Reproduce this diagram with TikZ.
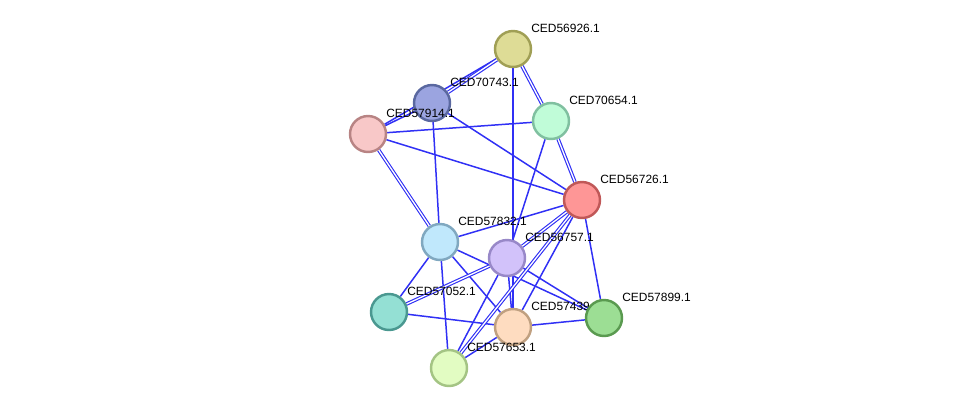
\documentclass[tikz,border=0pt]{standalone}
\usepackage{fontspec}
\setmainfont{Liberation Sans}
\usetikzlibrary{backgrounds}
\definecolor{edgec}{HTML}{3030F5}
\definecolor{f56926}{HTML}{DEDC96}\definecolor{d56926}{HTML}{A09F55}
\definecolor{f70743}{HTML}{9BA4E0}\definecolor{d70743}{HTML}{5A68A0}
\definecolor{f57914}{HTML}{F8C8C8}\definecolor{d57914}{HTML}{B88484}
\definecolor{f70654}{HTML}{C0FCD8}\definecolor{d70654}{HTML}{80C0A0}
\definecolor{f56726}{HTML}{FE9696}\definecolor{d56726}{HTML}{C05858}
\definecolor{f57832}{HTML}{C0E8FC}\definecolor{d57832}{HTML}{80A8C0}
\definecolor{f56757}{HTML}{D2C2FA}\definecolor{d56757}{HTML}{9888C8}
\definecolor{f57052}{HTML}{94E0D4}\definecolor{d57052}{HTML}{4A9890}
\definecolor{f57439}{HTML}{FEDCC0}\definecolor{d57439}{HTML}{C0A080}
\definecolor{f57899}{HTML}{9CDE94}\definecolor{d57899}{HTML}{5A9A50}
\definecolor{f57653}{HTML}{E2FCC2}\definecolor{d57653}{HTML}{A4C484}

\begin{document}
\begin{tikzpicture}[
    x=0.02cm, y=-0.02cm,
    prot/.style={circle, minimum size=0.72cm, inner sep=0pt, line width=1.4pt},
    lab/.style={font=\fontsize{6.8}{8}\selectfont, text=black, inner sep=0pt, anchor=west},
    edge/.style={draw=edgec, line width=0.85pt},
    dbl/.style={draw=edgec, line width=0.65pt, double=white, double distance=0.75pt},
]
\useasboundingbox (0,0) rectangle (976,414);

% proteins, each with its name
\foreach \id/\x/\y in {56926/513/49, 70654/551/121, 70743/432/103, 57914/368/134,
    56726/582/200, 57832/440/242, 56757/507/258, 57052/389/312,
    57439/513/327, 57899/604/318, 57653/449/368}{
    \node[prot, fill=f\id, draw=d\id] (n\id) at (\x,\y) {};
    \node[lab] (l\id) at (\x+18,\y-21) {CED\id.1};
}

% interactions, under the proteins
\begin{scope}[on background layer]
\foreach \a/\b in {57914/56926, 57914/70743, 57914/70654, 57914/56726,
    70743/56726, 70743/57832, 56926/57439, 70654/56757, 56726/57832,
    56726/57439, 56726/57899, 57832/57052, 57832/57653, 57832/57439,
    57832/57899, 56757/57653, 56757/57899, 56757/57439, 57052/57439,
    57439/57899, 57439/57653}{
    \draw[edge] (n\a) -- (n\b);
}
\foreach \a/\b in {70743/56926, 56926/70654, 70654/56726, 57914/57832,
    56726/56757, 56757/57052, 56726/57653}{
    \draw[dbl] (n\a) -- (n\b);
}
\end{scope}
\end{tikzpicture}
\end{document}
